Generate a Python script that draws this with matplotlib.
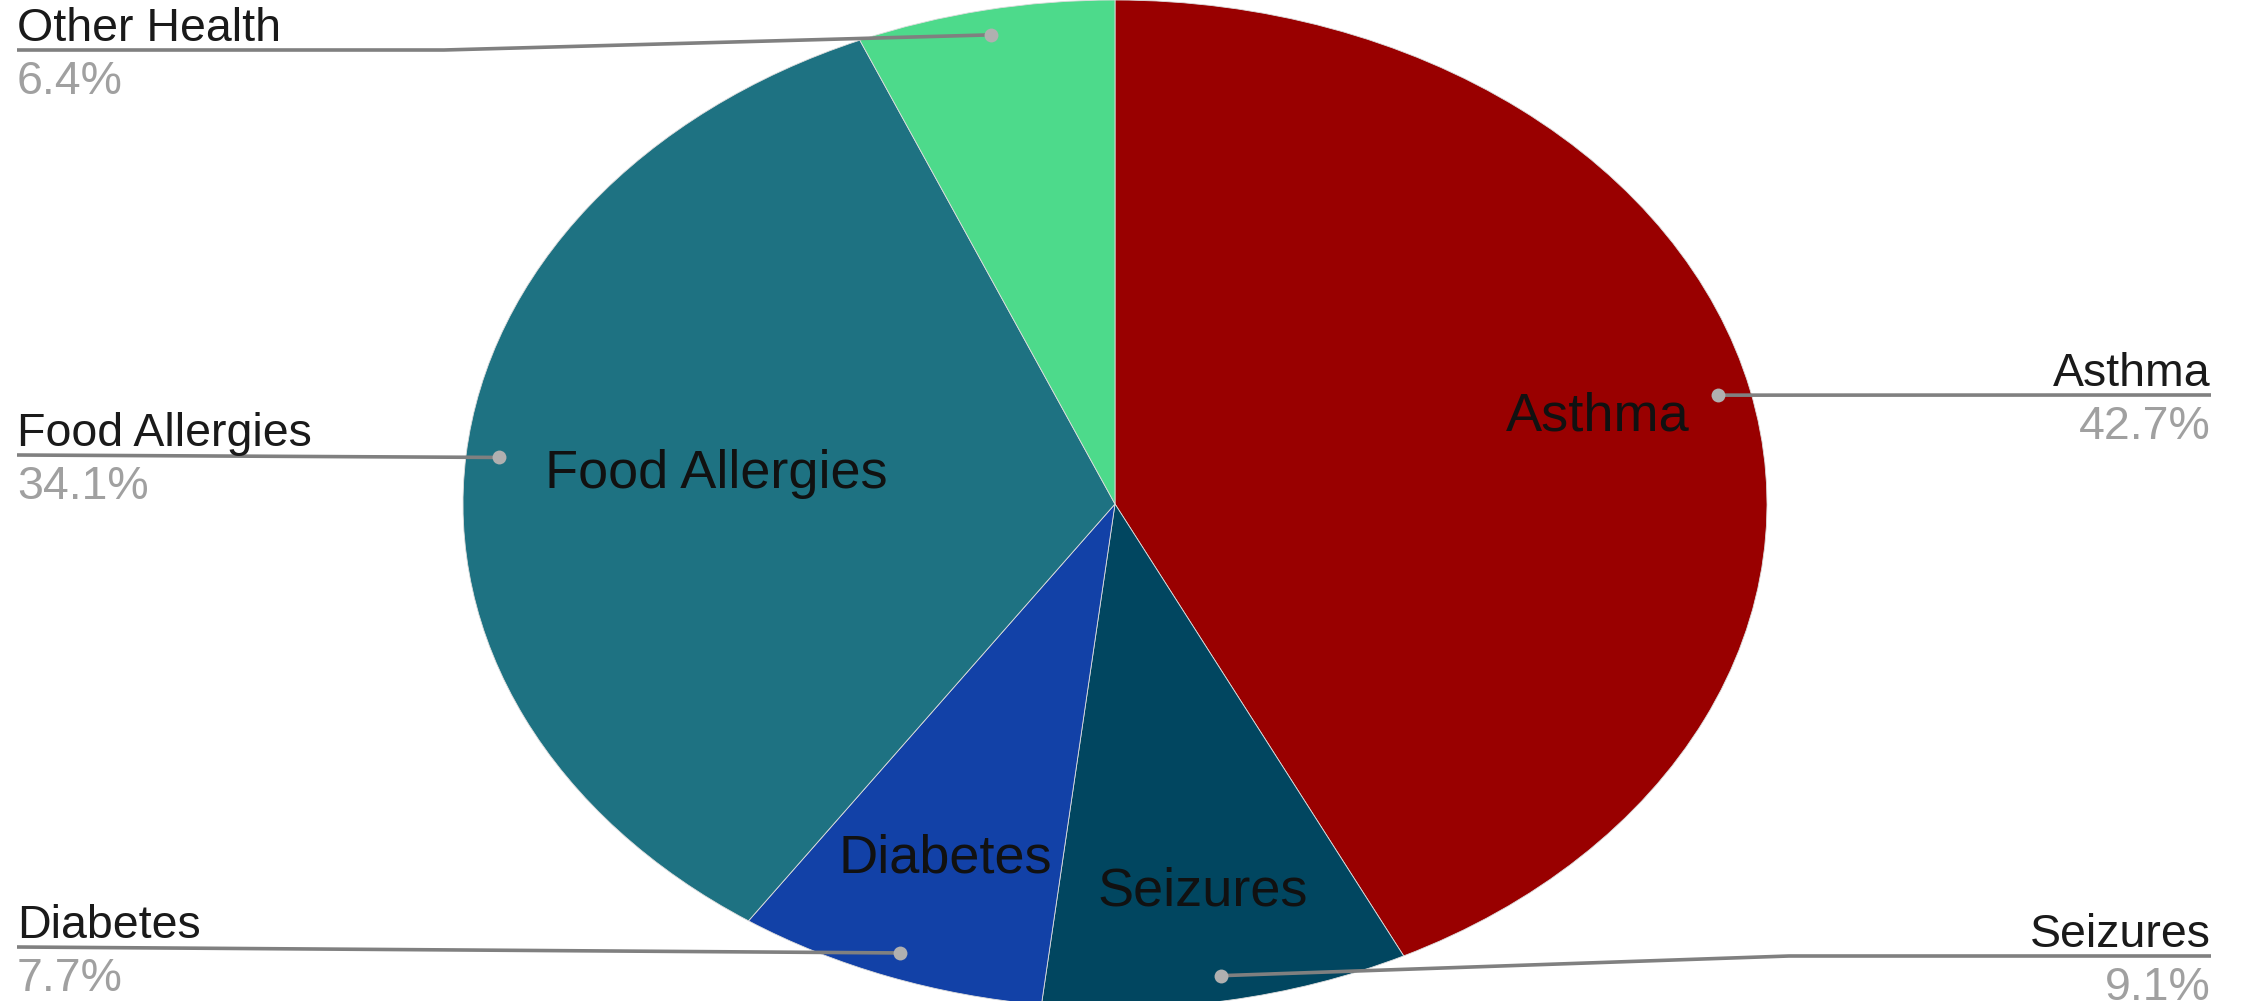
import numpy as np
import matplotlib
matplotlib.use("Agg")
import matplotlib.pyplot as plt

# ---- data ----
categories = ["Asthma", "Seizures", "Diabetes", "Food Allergies", "Other Health"]
values = [42.7, 9.1, 7.7, 34.1, 6.4]
pct_labels = ["42.7%", "9.1%", "7.7%", "34.1%", "6.4%"]
inner_labels = ["Asthma", "Seizures", "Diabetes", "Food Allergies", ""]

# ---- style ----
colors = ["#990000", "#014660", "#1241a7", "#1e7282", "#4dda8b"]
W, H = 2244, 1001
CX, CY, RX, RY = 1115, 504, 652, 504
FONT = ["Liberation Sans", "DejaVu Sans"]

fig = plt.figure(figsize=(W / 100, H / 100), dpi=100)
fig.patch.set_facecolor("white")

ax = fig.add_axes([(CX - RX) / W, (H - CY - RY) / H, 2 * RX / W, 2 * RY / H])
wedges, _ = ax.pie(values, colors=colors, startangle=90, counterclock=False,
                   radius=1, wedgeprops=dict(edgecolor="#dddddd", linewidth=0.6))
ax.set_aspect("auto")
ax.set_xlim(-1, 1)
ax.set_ylim(-1, 1)
ax.axis("off")

ov = fig.add_axes([0, 0, 1, 1], zorder=5)
ov.set_xlim(0, W)
ov.set_ylim(H, 0)
ov.axis("off")
ov.patch.set_alpha(0)


def to_px(x, y):
    d = ax.transData.transform((x, y))
    return ov.transData.inverted().transform(d)


inner_r = [0.76, 0.78, 0.75, 0.615, 0.76]
# label layout: side, line y (px), bend x (px) or None
layout = {
    "Asthma": ("right", 395, None),
    "Seizures": ("right", 956, 1789),
    "Diabetes": ("left", 947, None),
    "Food Allergies": ("left", 455, None),
    "Other Health": ("left", 50, 444),
}
LEFT_X, RIGHT_X = 17, 2211

for i, (w, cat) in enumerate(zip(wedges, categories)):
    mid = np.deg2rad((w.theta1 + w.theta2) / 2)
    # inner label
    if inner_labels[i]:
        ax.text(inner_r[i] * np.cos(mid), inner_r[i] * np.sin(mid), inner_labels[i],
                ha="center", va="center", fontsize=39, color="#111111", family=FONT)
    # dot + leader line
    dx, dy = to_px(0.95 * np.cos(mid), 0.95 * np.sin(mid))
    side, ly, bend = layout[cat]
    endx = RIGHT_X if side == "right" else LEFT_X
    if bend is None:
        xs, ys = [dx, endx], [dy, ly]
    else:
        xs, ys = [dx, bend, endx], [dy, ly, ly]
    ov.plot(xs, ys, color="#808080", lw=2.6, solid_capstyle="butt")
    ov.plot([dx], [dy], "o", color="#b0b0b0", ms=10, mec="none")
    ha = "right" if side == "right" else "left"
    ov.text(endx, ly - 9, cat, ha=ha, va="baseline", fontsize=33.5,
            color="#1a1a1a", family=FONT)
    ov.text(endx, ly + 10, pct_labels[i], ha=ha, va="top", fontsize=33.5,
            color="#a0a0a0", family=FONT)

fig.savefig("out.png", dpi=100, facecolor="white")
